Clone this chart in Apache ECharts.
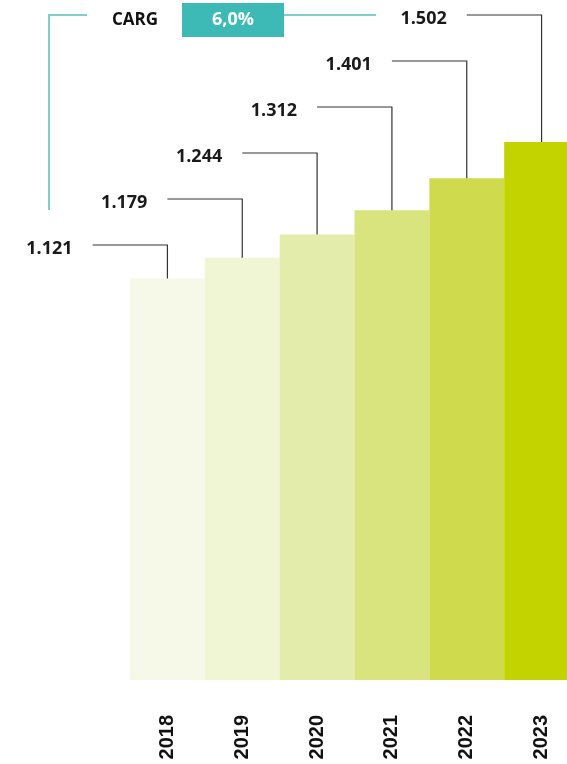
<!DOCTYPE html>
<html><head><meta charset="utf-8">
<script src="https://cdn.jsdelivr.net/npm/echarts@6/dist/echarts.min.js"></script>
<style>html,body{margin:0;padding:0;background:#fff}#c{width:567px;height:764px}</style>
</head><body><div id="c"></div>
<script>
const years = ['2018', '2019', '2020', '2021', '2022', '2023'];
const values = [1121, 1179, 1244, 1312, 1401, 1502];
const valueLabels = ['1.121', '1.179', '1.244', '1.312', '1.401', '1.502'];
const cagrLabel = 'CARG';
const cagrValue = '6,0%';
const barColors = ['#f6f9e8', '#f0f5d3', '#e4ecab', '#d9e47f', '#cfdb4d', '#c3d300'];

const chart = echarts.init(document.getElementById('c'), null, {renderer: 'canvas'});
const n = years.length;
const teal = '#7fd0cc';
const labelFont = 'bold 18px "Open Sans"';

chart.setOption({
  animation: false,
  backgroundColor: '#ffffff',
  grid: {left: 130, width: 449, top: 107, bottom: 84, containLabel: false, outerBoundsMode: 'none'},
  xAxis: {
    type: 'category', data: years, boundaryGap: true,
    axisLine: {show: false}, axisTick: {show: false}, splitLine: {show: false},
    axisLabel: {rotate: 90, margin: 35, color: '#111', fontFamily: 'Liberation Sans', fontWeight: 'bold', fontSize: 20, padding: [0, 0, 0, 0]}
  },
  yAxis: {type: 'value', min: 0, max: 1600, show: false, splitLine: {show: false}},
  series: [
    {
      type: 'bar', barWidth: '100%', barCategoryGap: 0,
      data: values.map((v, i) => ({value: v, itemStyle: {color: barColors[i]}})),
      silent: true
    },
    {
      type: 'custom', coordinateSystem: 'cartesian2d', clip: false, z: 5,
      data: values.map((v, i) => [i, v]),
      renderItem: function (params, api) {
        const i = api.value(0);
        const p = api.coord([i, api.value(1)]);
        const bw = api.size([1, 0])[0];
        const ly = 15 + (n - 1 - i) * 46;
        const x0 = p[0] - bw;
        return {
          type: 'group',
          children: [
            {type: 'polyline', shape: {points: [[x0, ly], [p[0], ly], [p[0], p[1]]]},
             style: {stroke: '#333', lineWidth: 1.2, fill: null}},
            {type: 'text', style: {x: x0 - 20, y: ly + 4, text: valueLabels[i], textAlign: 'right',
              textVerticalAlign: 'middle', font: labelFont, fill: '#1a1a1a'}}
          ]
        };
      }
    }
  ],
  graphic: [
    {type: 'polyline', shape: {points: [[49, 210], [49, 15], [87, 15]]}, style: {stroke: teal, lineWidth: 2, fill: null}},
    {type: 'text', style: {x: 135, y: 20, text: cagrLabel, textAlign: 'center', textVerticalAlign: 'middle', font: 'bold 17px "Open Sans"', fill: '#111'}},
    {type: 'rect', shape: {x: 182, y: 3, width: 102, height: 34}, style: {fill: '#3dbab5'}},
    {type: 'text', style: {x: 233, y: 20, text: cagrValue, textAlign: 'center', textVerticalAlign: 'middle', font: 'bold 18px "Open Sans"', fill: '#ffffff'}},
    {type: 'line', shape: {x1: 284, y1: 15, x2: 376, y2: 15}, style: {stroke: teal, lineWidth: 2}}
  ]
});
</script></body></html>
